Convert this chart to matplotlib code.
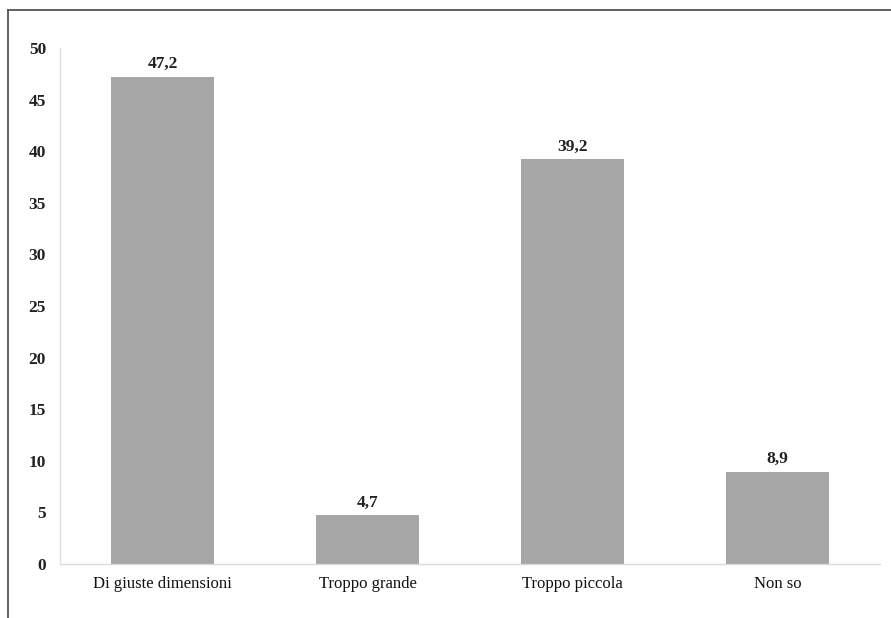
import matplotlib
matplotlib.use("Agg")
import matplotlib.pyplot as plt
from matplotlib.lines import Line2D

categories = ["Di giuste dimensioni", "Troppo grande", "Troppo piccola", "Non so"]
values = [47.2, 4.7, 39.2, 8.9]
value_labels = ["47,2", "4,7", "39,2", "8,9"]
yticks = [0, 5, 10, 15, 20, 25, 30, 35, 40, 45, 50]

W, H = 891, 618
fig = plt.figure(figsize=(W / 100, H / 100), dpi=100)
fig.patch.set_facecolor("white")

ax = fig.add_axes([60 / W, (H - 564) / H, (880 - 60) / W, (564 - 48) / H])
x = list(range(len(categories)))
ax.bar(x, values, width=0.5, color="#a6a6a6", zorder=2)

ax.set_xlim(-0.5, len(categories) - 0.5)
ax.set_ylim(0, 50)
ax.set_yticks(yticks)
ax.set_yticklabels([str(t) for t in yticks], family="Liberation Serif",
                   fontsize=12.5, fontweight="bold", color="#222222")
ax.set_xticks(x)
ax.set_xticklabels(categories, family="Liberation Serif", fontsize=12, color="#111111")
ax.tick_params(axis="both", length=0)
ax.tick_params(axis="y", pad=10)
ax.tick_params(axis="x", pad=9)

for s in ["top", "right"]:
    ax.spines[s].set_visible(False)
ax.spines["left"].set_color("#e0e0e0")
ax.spines["bottom"].set_color("#d9d9d9")
ax.spines["left"].set_linewidth(1.0)
ax.spines["bottom"].set_linewidth(1.0)

for xi, v, lab in zip(x, values, value_labels):
    ax.annotate(lab, (xi, v), xytext=(0, 3.5), textcoords="offset points",
                ha="center", va="bottom", family="Liberation Serif",
                fontsize=12.5, fontweight="bold", color="#222222")

# outer frame (top and left edges)
fig.add_artist(Line2D([7.5 / W, 1.0], [1 - 9.5 / H, 1 - 9.5 / H],
                      transform=fig.transFigure, color="#555555", linewidth=1.3))
fig.add_artist(Line2D([7.5 / W, 7.5 / W], [0.0, 1 - 9.5 / H],
                      transform=fig.transFigure, color="#555555", linewidth=1.3))

fig.savefig("out.png", dpi=100, facecolor="white")
